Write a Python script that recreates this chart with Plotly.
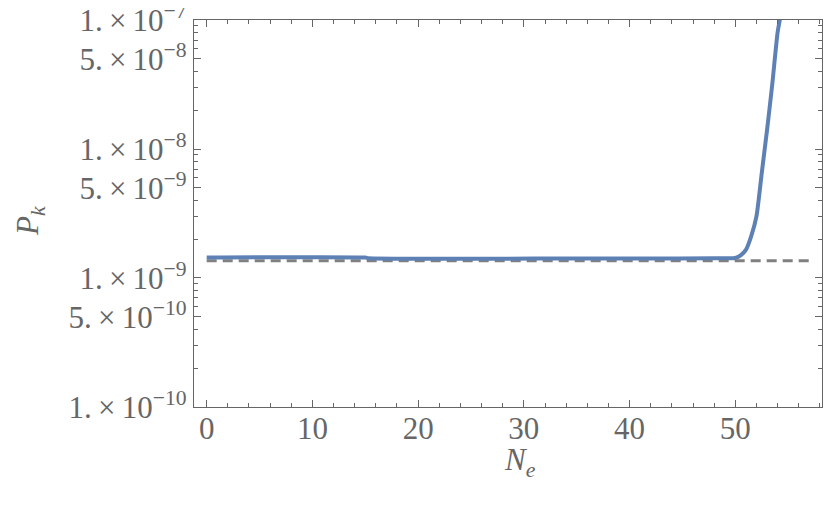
import plotly.graph_objects as go

# blue curve: P_k vs N_e
n_e = [0, 15, 15.3, 48, 50, 50.5, 51, 51.5, 52, 52.5, 53, 53.5, 54, 54.3]
p_k = [1.44e-9, 1.44e-9, 1.425e-9, 1.425e-9, 1.43e-9, 1.5e-9, 1.65e-9, 2.1e-9,
       3.0e-9, 6.5e-9, 1.4e-8, 3.2e-8, 8.0e-8, 1.1e-7]

# dashed reference level
ref_n = [0, 57]
ref_p = [1.36e-9, 1.36e-9]

x_ticks = [0, 10, 20, 30, 40, 50]
y_ticks = [1e-10, 5e-10, 1e-9, 5e-9, 1e-8, 5e-8, 1e-7]
y_text = ["1.\u2009×\u200910<sup>−10</sup>", "5.\u2009×\u200910<sup>−10</sup>",
          "1.\u2009×\u200910<sup>−9</sup>", "5.\u2009×\u200910<sup>−9</sup>",
          "1.\u2009×\u200910<sup>−8</sup>", "5.\u2009×\u200910<sup>−8</sup>",
          "1.\u2009×\u200910<sup>−7</sup>"]
y_minor = [m * 10.0 ** e for e in (-10, -9, -8) for m in (2, 3, 4, 6, 7, 8, 9)]

serif = "Liberation Serif"
grey = "#666666"

fig = go.Figure()
fig.add_trace(go.Scatter(x=ref_n, y=ref_p, mode="lines",
                         line=dict(color="#808080", width=3, dash="10px,6px")))
fig.add_trace(go.Scatter(x=n_e, y=p_k, mode="lines",
                         line=dict(color="#5E81B5", width=4, shape="spline", smoothing=0.6)))

# page body adds 8px, so the figure is a bit smaller than the window
fig.update_layout(
    width=826, height=497,
    margin=dict(l=186, r=12, t=12, b=98),
    plot_bgcolor="white", paper_bgcolor="white",
    showlegend=False,
    font=dict(family=serif, size=31, color=grey),
)
fig.update_xaxes(
    range=[-1.2, 58.2], showgrid=False, zeroline=False, automargin=False,
    showline=True, linecolor=grey, linewidth=1.2, mirror="ticks",
    tickmode="array", tickvals=x_ticks, ticks="inside", ticklen=7,
    tickcolor=grey, tickwidth=1, ticklabelstandoff=-6,
    minor=dict(dtick=2, tick0=0, ticks="inside", ticklen=4, tickcolor=grey),
    tickfont=dict(size=31),
)
fig.update_yaxes(
    type="log", range=[-10.0005, -6.9995], showgrid=False, zeroline=False,
    automargin=False,
    showline=True, linecolor=grey, linewidth=1.2, mirror="ticks",
    tickmode="array", tickvals=y_ticks, ticktext=y_text, ticks="inside",
    ticklen=7, tickcolor=grey, tickwidth=1, ticklabeloverflow="allow",
    minor=dict(tickvals=y_minor, ticks="inside", ticklen=4, tickcolor=grey),
    tickfont=dict(size=31),
)
# axis titles placed by hand
fig.add_annotation(text="<i>P<sub>k</sub></i>", xref="paper", yref="paper",
                   x=-0.295, y=0.48, textangle=-90, showarrow=False,
                   font=dict(size=31, color=grey, family=serif))
fig.add_annotation(text="<i>N<sub>e</sub></i>", xref="paper", yref="paper",
                   x=0.519, y=-0.142, yanchor="middle", showarrow=False,
                   font=dict(size=31, color=grey, family=serif))

fig.write_html("out.html")
